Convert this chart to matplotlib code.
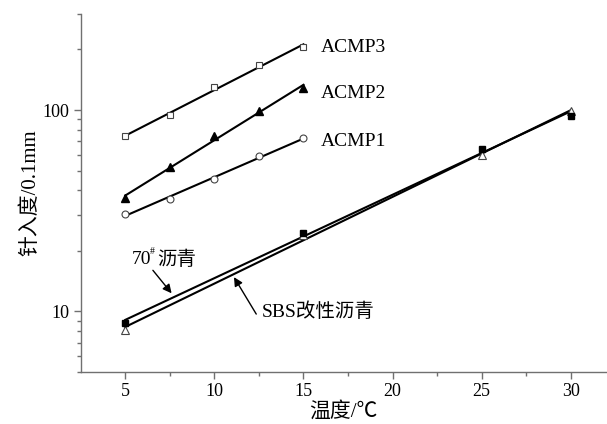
import numpy as np
import matplotlib
matplotlib.use("Agg")
import matplotlib.pyplot as plt
from matplotlib.ticker import LogLocator, FixedLocator, NullFormatter, FixedFormatter

plt.rcParams['font.family'] = ['Liberation Serif', 'Noto Sans CJK SC', 'DejaVu Sans']

# ---- data ----
x_acmp = [5, 7.5, 10, 12.5, 15]
acmp3 = [74, 95, 130, 167, 206]
acmp2 = [36.4, 52.2, 74, 98.5, 129]
acmp1 = [30.6, 36.1, 45.7, 59, 72.3]

x_asp = [5, 15, 25, 30]
asp70 = [8.8, 24.4, 64.4, 93.3]
sbs = [8.1, 24.0, 59.7, 98.9]

x_ticks = [5, 10, 15, 20, 25, 30]
y_ticks = [10, 100]
y_ticklabels = ['10', '100']

fig = plt.figure(figsize=(6.07, 4.24), dpi=100)
ax = fig.add_axes([0.133, 0.1226, 0.866, 0.8444])
ax.set_yscale('log')


def fit_line(x, y):
    x = np.asarray(x, float)
    c = np.polyfit(x, np.log10(y), 1)
    xs = np.array([x.min(), x.max()])
    return xs, 10 ** np.polyval(c, xs)


lw = 1.5
for xs, ys in [(x_acmp, acmp3), (x_acmp, acmp2), (x_acmp, acmp1), (x_asp, asp70), (x_asp, sbs)]:
    fx, fy = fit_line(xs, ys)
    ax.plot(fx, fy, color='black', lw=lw, zorder=2)

ax.plot(x_acmp, acmp3, ls='none', marker='s', ms=5, mfc='white', mec='#444444', mew=0.8, zorder=3)
ax.plot(x_acmp, acmp2, ls='none', marker='^', ms=6, mfc='black', mec='black', zorder=3)
ax.plot(x_acmp, acmp1, ls='none', marker='o', ms=5, mfc='white', mec='#444444', mew=0.8, zorder=3)
ax.plot(x_asp, sbs, ls='none', marker='^', ms=6, mfc='white', mec='#444444', mew=0.8, zorder=3)
ax.plot(x_asp, asp70, ls='none', marker='s', ms=5, mfc='black', mec='black', zorder=4)

ax.set_xlim(2.5, 32)
ax.set_ylim(5, 300)

ax.set_xticks(x_ticks)
ax.xaxis.set_minor_locator(FixedLocator([7.5, 12.5, 17.5, 22.5, 27.5]))
ax.yaxis.set_major_locator(FixedLocator(y_ticks))
ax.yaxis.set_major_formatter(FixedFormatter(y_ticklabels))
ax.yaxis.set_minor_locator(LogLocator(base=10, subs=np.arange(2, 10)))
ax.yaxis.set_minor_formatter(NullFormatter())

for s in ['top', 'right']:
    ax.spines[s].set_visible(False)
for s in ['left', 'bottom']:
    ax.spines[s].set_color('#707070')
    ax.spines[s].set_linewidth(1.0)

ax.tick_params(which='major', direction='out', length=5, width=1, color='#707070',
               labelsize=13, pad=3)
ax.tick_params(which='minor', direction='out', length=3, width=1, color='#707070')

ax.set_xlabel('温度/℃', fontsize=15, labelpad=1)
ax.set_ylabel('针入度/0.1mm', fontsize=15, labelpad=2)

# series labels
ax.text(16.0, 205, 'ACMP3', fontsize=14, va='center', ha='left')
ax.text(16.0, 121, 'ACMP2', fontsize=14, va='center', ha='left')
ax.text(16.0, 70, 'ACMP1', fontsize=14, va='center', ha='left')

# 70# label
ax.text(5.35, 18.1, '70', fontsize=14, va='center', ha='left')
ax.text(6.4, 19.8, '#', fontsize=7, va='center', ha='left')
ax.text(6.8, 18.1, '沥青', fontsize=14, va='center', ha='left')
ax.annotate('', xy=(7.6, 12.3), xytext=(6.55, 16.0),
            arrowprops=dict(arrowstyle='-|>', color='black', lw=1.0, mutation_scale=13,
                            shrinkA=0, shrinkB=0))

# SBS label
ax.text(12.65, 10.0, 'SBS改性沥青', fontsize=14, va='center', ha='left')
ax.annotate('', xy=(11.1, 14.8), xytext=(12.35, 9.7),
            arrowprops=dict(arrowstyle='-|>', color='black', lw=1.0, mutation_scale=13,
                            shrinkA=0, shrinkB=0))

fig.savefig('out.png', dpi=100)
